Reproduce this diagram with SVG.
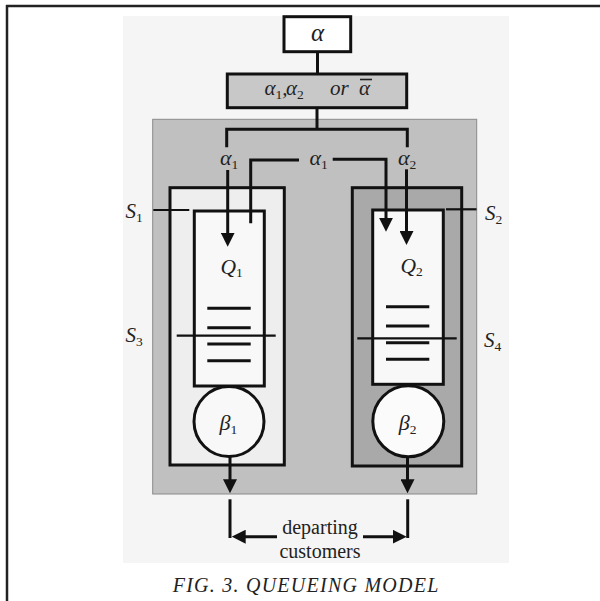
<svg xmlns="http://www.w3.org/2000/svg" width="600" height="601" viewBox="0 0 600 601">
<style>
.bx{stroke:#111;stroke-width:3}
.ln{fill:none;stroke:#111;stroke-width:3}
.th{fill:none;stroke:#111;stroke-width:2.2}
.it{font-family:"Liberation Serif","Times New Roman",serif;font-style:italic;fill:#222}
.rm{font-family:"Liberation Serif","Times New Roman",serif;fill:#222}
.sub{font-style:normal;font-size:13.5px}
</style>
<defs>
<marker id="ah" viewBox="0 0 14 14" markerWidth="14" markerHeight="14" refX="8" refY="7" orient="auto" markerUnits="userSpaceOnUse">
<path d="M0,0 L14,7 L0,14 Z" fill="#111"/>
</marker>
</defs>
<rect width="600" height="601" fill="#fff"/>
<g id="frame">
<line x1="6" y1="6" x2="600" y2="6" stroke="#222" stroke-width="2.5"/>
<line x1="7" y1="5" x2="7" y2="601" stroke="#222" stroke-width="2.5"/>
<rect x="123" y="16" width="386" height="547" fill="#f5f5f5"/>
</g>
<g id="system">
<rect x="152.7" y="119.3" width="324" height="374.7" fill="#c0c0c0" stroke="#8a8a8a" stroke-width="1"/>
</g>
<g id="alpha">
<rect class="bx" x="284" y="16.7" width="66.7" height="35" fill="#fff"/>
<text class="it" x="317.5" y="40.5" font-size="25" text-anchor="middle">α</text>
</g>
<g id="split">
<rect class="bx" x="227.3" y="74" width="179.4" height="33.7" fill="#c8c8c8"/>
<text class="it" font-size="21" y="94.5"><tspan x="264.5">α</tspan><tspan class="sub" dy="4">1</tspan><tspan dy="-4">,</tspan><tspan x="286">α</tspan><tspan class="sub" dy="4">2</tspan><tspan x="330" dy="-4">or</tspan><tspan x="359">α</tspan></text>
<line x1="360" y1="79.5" x2="372" y2="79.5" stroke="#222" stroke-width="1.6"/>
</g>
<g id="S1">
<rect class="bx" x="170" y="187.7" width="114.3" height="277.3" fill="#eeeeee"/>
</g>
<g id="Q1">
<rect class="bx" x="194.3" y="211" width="70" height="175" fill="#f8f8f8"/>
<text class="it" x="220.5" y="274" font-size="21.5">Q<tspan class="sub" dy="3">1</tspan></text>
<line class="ln" x1="207.3" y1="308.3" x2="250.7" y2="308.3"/>
<line class="ln" x1="207.3" y1="327.7" x2="250.7" y2="327.7"/>
<line class="ln" x1="207.3" y1="344" x2="250.7" y2="344"/>
<line class="ln" x1="207.3" y1="360.7" x2="250.7" y2="360.7"/>
</g>
<g id="beta1">
<circle class="bx" cx="229" cy="421.5" r="35" fill="#f8f8f8"/>
<text class="it" x="219.5" y="429.5" font-size="22">β<tspan class="sub" dy="4">1</tspan></text>
</g>
<g id="S2">
<rect class="bx" x="352.3" y="187.7" width="109.4" height="278.3" fill="#a9a9a9"/>
</g>
<g id="Q2">
<rect class="bx" x="372.7" y="210" width="70.6" height="174.3" fill="#f8f8f8"/>
<text class="it" x="400.5" y="272.5" font-size="21.5">Q<tspan class="sub" dy="3">2</tspan></text>
<line class="ln" x1="386" y1="306.7" x2="429.3" y2="306.7"/>
<line class="ln" x1="386" y1="326" x2="429.3" y2="326"/>
<line class="ln" x1="386" y1="342.7" x2="429.3" y2="342.7"/>
<line class="ln" x1="386" y1="359.3" x2="429.3" y2="359.3"/>
</g>
<g id="beta2">
<circle class="bx" cx="408.3" cy="421.3" r="35.5" fill="#fbfbfb"/>
<text class="it" x="398.8" y="430" font-size="22">β<tspan class="sub" dy="4">2</tspan></text>
</g>
<g id="subsystems">
<line class="th" x1="153.3" y1="210" x2="189.3" y2="210"/>
<line class="th" x1="446" y1="209.3" x2="476.5" y2="209.3"/>
<line class="th" x1="176.7" y1="335.7" x2="275.7" y2="335.7"/>
<line class="th" x1="357.3" y1="338.3" x2="456.7" y2="338.3"/>
<text class="it" x="125.5" y="217.5" font-size="21">S<tspan class="sub" dy="4">1</tspan></text>
<text class="it" x="485" y="220" font-size="21">S<tspan class="sub" dy="4">2</tspan></text>
<text class="it" x="125.5" y="342.3" font-size="21">S<tspan class="sub" dy="4">3</tspan></text>
<text class="it" x="484" y="347" font-size="21">S<tspan class="sub" dy="4">4</tspan></text>
</g>
<g id="connectors">
<line class="ln" x1="317.5" y1="51.7" x2="317.5" y2="74"/>
<line class="ln" x1="317" y1="107.7" x2="317" y2="129.3"/>
<polyline class="ln" points="226.7,147.3 226.7,129.3 407.3,129.3 407.3,147.3"/>
<line class="ln" x1="227.7" y1="170" x2="227.7" y2="240.7" marker-end="url(#ah)"/>
<polyline class="ln" points="299,160 250.7,160 250.7,223.3"/>
<polyline class="ln" points="332.7,159.3 386,159.3 386,225.7" marker-end="url(#ah)"/>
<line class="ln" x1="406.5" y1="169.3" x2="406.5" y2="239" marker-end="url(#ah)"/>
<line class="ln" x1="230" y1="456.5" x2="230" y2="487.3" marker-end="url(#ah)"/>
<line class="ln" x1="407.5" y1="456.7" x2="407.5" y2="487.3" marker-end="url(#ah)"/>
<line class="ln" x1="230" y1="499.3" x2="230" y2="538"/>
<line class="ln" x1="407.7" y1="499.3" x2="407.7" y2="538"/>
<line class="ln" x1="277" y1="536.7" x2="237.7" y2="536.7" marker-end="url(#ah)"/>
<line class="ln" x1="363" y1="536.7" x2="400.7" y2="536.7" marker-end="url(#ah)"/>
<text class="it" x="220" y="165" font-size="22">α<tspan class="sub" dy="4">1</tspan></text>
<text class="it" x="309.5" y="164.5" font-size="22">α<tspan class="sub" dy="4">1</tspan></text>
<text class="it" x="398" y="165" font-size="22">α<tspan class="sub" dy="4">2</tspan></text>
<text class="rm" x="320" y="534" font-size="20" text-anchor="middle">departing</text>
<text class="rm" x="320" y="557.5" font-size="20" text-anchor="middle">customers</text>
</g>
<text class="it" x="172.7" y="591.7" font-size="20" textLength="265.6" lengthAdjust="spacing">FIG. 3. QUEUEING MODEL</text>
</svg>
